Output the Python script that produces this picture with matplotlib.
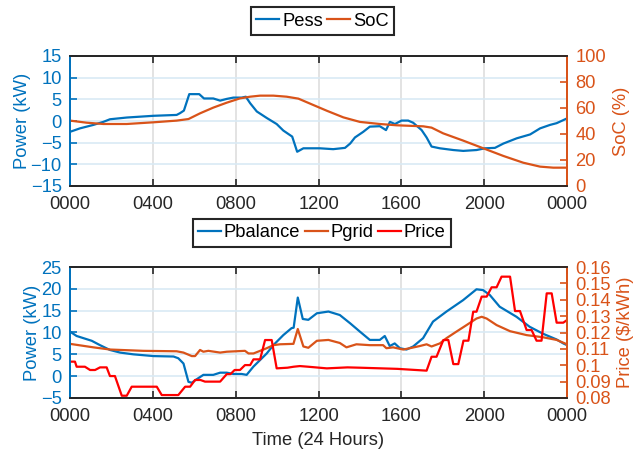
import matplotlib
matplotlib.use("Agg")
import matplotlib.pyplot as plt
from matplotlib.lines import Line2D

# ---------------- data ----------------
x_ticks = [0, 4, 8, 12, 16, 20, 24]
x_ticklabels = ["0000", "0400", "0800", "1200", "1600", "2000", "0000"]

t_pess = [0, 0.48, 1.13, 1.61, 1.93, 2.74, 4.03, 5.15, 5.31, 5.5, 5.76, 6.24, 6.47, 6.92,
          7.25, 7.57, 7.89, 8.29, 8.49, 8.7, 9.02, 9.5, 9.98, 10.3, 10.73, 10.97, 11.27,
          12.07, 12.71, 13.28, 13.53, 13.76, 14.16, 14.48, 14.96, 15.26, 15.45, 15.69,
          16.01, 16.33, 16.57, 16.98, 17.22, 17.46, 17.86, 18.51, 18.99, 19.63, 20.04,
          20.52, 20.93, 21.57, 22.22, 22.7, 23.18, 23.5, 23.82, 24]
pess = [-2.5, -1.7, -0.9, -0.2, 0.4, 0.8, 1.2, 1.4, 1.8, 2.4, 6.2, 6.2, 5.2, 5.2, 4.7,
        5.1, 5.4, 5.4, 5.6, 4.1, 2.2, 0.7, -0.7, -2.2, -3.6, -7.1, -6.3, -6.3, -6.5, -6.2,
        -5.2, -3.8, -2.5, -1.3, -1.2, -2.1, -0.2, -0.7, 0.1, 0.1, -0.4, -2.1, -3.8, -5.9,
        -6.3, -6.7, -6.9, -6.7, -6.3, -6.2, -5.2, -4.0, -3.1, -1.7, -0.9, -0.5, 0.2, 0.6]

t_soc = [0, 0.8, 1.61, 2.74, 4.03, 5.15, 5.72, 6.28, 6.92, 7.57, 8.21, 8.7, 9.18, 9.82,
         10.46, 11.03, 11.75, 12.4, 13.2, 14.0, 14.96, 15.77, 17.06, 17.46, 18.02, 18.99,
         20.04, 20.93, 21.89, 22.7, 23.34, 24]
soc = [50.3, 48.7, 47.7, 47.7, 49.0, 50.3, 51.5, 55.9, 60.3, 64.1, 67.4, 68.7, 69.5, 69.5,
       68.7, 67.2, 62.3, 57.9, 52.8, 49.3, 47.7, 46.7, 45.9, 44.9, 40.5, 34.9, 28.5, 23.1,
       17.9, 14.9, 14.1, 14.1]

t_pbal = [0, 0.32, 1.05, 1.45, 1.93, 2.42, 3.06, 4.03, 5.0, 5.23, 5.48, 5.72, 5.88, 6.12,
          6.44, 6.92, 7.25, 7.57, 7.89, 8.29, 8.53, 8.86, 9.18, 9.5, 9.82, 10.3, 10.7, 10.8,
          11.0, 11.24, 11.51, 11.92, 12.48, 13.03, 13.53, 14.0, 14.48, 14.96, 15.2, 15.44,
          15.68, 15.93, 16.25, 16.57, 17.05, 17.53, 18.18, 18.98, 19.63, 19.95, 20.27,
          20.75, 21.56, 22.2, 22.85, 23.5, 23.82, 24]
pbal = [10.2, 9.2, 8.1, 7.1, 6.0, 5.4, 5.0, 4.6, 4.5, 4.1, 2.9, -1.3, -1.5, -0.7, 0.3, 0.3,
        0.8, 0.8, 0.5, 0.5, 0.3, 2.2, 3.7, 5.2, 7.1, 9.4, 11.0, 11.1, 18.0, 13.1, 12.9,
        14.4, 14.8, 14.0, 12.1, 10.2, 8.3, 8.3, 9.2, 6.9, 7.5, 6.4, 6.1, 6.8, 8.7, 12.5,
        14.8, 17.4, 19.9, 19.7, 18.6, 15.9, 13.6, 11.3, 9.7, 8.4, 7.5, 7.1]

t_pgrid = [0, 1.13, 1.93, 3.54, 5.15, 5.48, 5.88, 6.04, 6.28, 6.44, 6.68, 7.25, 7.57, 8.45,
           8.62, 8.86, 9.18, 9.5, 9.82, 10.14, 10.79, 11.0, 11.27, 11.51, 11.92, 12.48,
           13.03, 13.35, 13.83, 14.48, 15.12, 15.28, 15.6, 16.09, 16.41, 16.89, 17.22,
           17.46, 17.86, 18.18, 18.66, 19.15, 19.63, 19.88, 20.12, 20.6, 21.25, 22.05,
           22.85, 23.5, 24]
pgrid = [7.4, 6.6, 6.1, 5.8, 5.7, 5.4, 4.6, 4.6, 6.0, 5.6, 5.8, 5.4, 5.6, 5.8, 5.2, 5.2,
         5.8, 6.4, 7.1, 7.3, 7.4, 10.8, 6.8, 6.5, 8.1, 8.3, 7.6, 6.6, 7.3, 7.1, 7.1, 6.4,
         6.6, 6.1, 6.4, 6.9, 7.3, 6.8, 7.5, 8.7, 10.2, 11.7, 13.2, 13.6, 13.2, 11.7, 10.3,
         9.4, 8.9, 8.3, 7.3]

t_price = [0, 0.24, 0.32, 0.72, 0.97, 1.21, 1.45, 1.77, 1.93, 2.17, 2.5, 2.74, 2.98, 4.19,
           4.43, 5.23, 5.56, 5.8, 6.04, 6.3, 6.52, 7.25, 7.57, 7.75, 7.95, 8.21, 8.45, 8.7,
           8.86, 9.18, 9.42, 9.74, 9.98, 10.5, 10.8, 11.1, 11.5, 12.4, 13.4, 14.0, 15.8,
           17.22, 17.46, 17.7, 18.03, 18.27, 18.51, 18.75, 19.0, 19.24, 19.47, 19.63, 19.88,
           20.12, 20.36, 20.6, 20.84, 21.25, 21.49, 21.73, 22.05, 22.29, 22.53, 22.77,
           23.02, 23.26, 23.5, 23.82, 24]
price = [0.1022, 0.1022, 0.0991, 0.0991, 0.0971, 0.0971, 0.0987, 0.0987, 0.0934, 0.0934,
         0.0814, 0.0814, 0.0869, 0.0869, 0.0818, 0.0818, 0.0869, 0.0869, 0.0910, 0.0910,
         0.0900, 0.0900, 0.0946, 0.0946, 0.0971, 0.0971, 0.1001, 0.1001, 0.1036, 0.1036,
         0.1154, 0.1154, 0.0981, 0.0985, 0.0991, 0.0995, 0.0991, 0.0981, 0.0987, 0.0985,
         0.0978, 0.0967, 0.1052, 0.1052, 0.1154, 0.1154, 0.1007, 0.1007, 0.1150, 0.1150,
         0.1327, 0.1327, 0.1419, 0.1419, 0.1476, 0.1476, 0.1541, 0.1541, 0.1331, 0.1331,
         0.1215, 0.1215, 0.1150, 0.1150, 0.1439, 0.1439, 0.1260, 0.1260, 0.1276]

top_left_ticks = [-15, -10, -5, 0, 5, 10, 15]
top_right_ticks = [0, 20, 40, 60, 80, 100]
bot_left_ticks = [-5, 0, 5, 10, 15, 20, 25]
bot_right_ticks = [0.08, 0.09, 0.10, 0.11, 0.12, 0.13, 0.14, 0.15, 0.16]
bot_right_labels = ["0.08", "0.09", "0.1", "0.11", "0.12", "0.13", "0.14", "0.15", "0.16"]

# ---------------- style ----------------
BLUE = "#0072BD"
ORANGE = "#D95319"
RED = "#FF0000"
DARK = "#262626"
HGRID = "#D9EAF5"
VGRID = "#DEDEDE"
FS = 13.2
LW = 1.6

plt.rcParams["font.family"] = ["Liberation Sans", "DejaVu Sans"]
plt.rcParams["font.size"] = FS

fig = plt.figure(figsize=(6.44, 4.51), dpi=100)

W, H = 644.0, 451.0
def pos(x0, x1, y0, y1):
    return [x0 / W, 1 - y1 / H, (x1 - x0) / W, (y1 - y0) / H]

def style_axes(ax, ax2, lticks, rticks, rlabels=None):
    ax.set_xlim(0, 24)
    ax.set_xticks(x_ticks)
    ax.set_xticklabels(x_ticklabels)
    ax.set_yticks(lticks)
    ax.set_ylim(lticks[0], lticks[-1])
    ax2.set_yticks(rticks)
    ax2.set_ylim(rticks[0], rticks[-1])
    if rlabels is not None:
        ax2.set_yticklabels(rlabels)
    ax.tick_params(axis="x", direction="in", length=5, width=1.2, colors=DARK,
                   labelcolor=DARK, labelsize=FS, pad=7, top=True)
    ax.tick_params(axis="y", direction="in", length=5, width=1.2, colors=BLUE,
                   labelcolor=BLUE, labelsize=FS, pad=6)
    ax2.tick_params(axis="y", direction="in", length=5, width=1.2, colors=ORANGE,
                    labelcolor=ORANGE, labelsize=FS, pad=6)
    for a in (ax, ax2):
        a.spines["top"].set_color(DARK)
        a.spines["bottom"].set_color(DARK)
        a.spines["left"].set_color(BLUE)
        a.spines["right"].set_color(ORANGE)
        for s in a.spines.values():
            s.set_linewidth(1.3)
    ax.set_axisbelow(True)
    ax.grid(axis="y", color=HGRID, linewidth=1.2)
    ax.grid(axis="x", color=VGRID, linewidth=1.2)

# ---------------- top ----------------
ax1 = fig.add_axes(pos(70, 567, 56, 186))
ax1b = ax1.twinx()
ax1.plot(t_pess, pess, color=BLUE, lw=LW)
ax1b.plot(t_soc, soc, color=ORANGE, lw=LW)
style_axes(ax1, ax1b, top_left_ticks, top_right_ticks)
ax1.set_ylabel("Power (kW)", color=BLUE, fontsize=FS, labelpad=0)
ax1b.set_ylabel("SoC (%)", color=ORANGE, fontsize=FS, labelpad=5)

# ---------------- bottom ----------------
ax2 = fig.add_axes(pos(70, 567, 267, 398))
ax2b = ax2.twinx()
ax2.plot(t_pbal, pbal, color=BLUE, lw=LW)
ax2.plot(t_pgrid, pgrid, color=ORANGE, lw=LW)
ax2b.plot(t_price, price, color=RED, lw=LW)
style_axes(ax2, ax2b, bot_left_ticks, bot_right_ticks, bot_right_labels)
ax2.set_ylabel("Power (kW)", color=BLUE, fontsize=FS, labelpad=0)
ax2b.set_ylabel("Price ($/kWh)", color=ORANGE, fontsize=FS, labelpad=4)
ax2.set_xlabel("Time (24 Hours)", color=DARK, fontsize=FS, labelpad=5)

# ---------------- legends ----------------
leg_kw = dict(loc="center", frameon=True, fancybox=False, edgecolor=DARK,
              framealpha=1, fontsize=FS, handlelength=1.25, handletextpad=0.15,
              columnspacing=0.25, borderpad=0.3, borderaxespad=0)
h1 = [Line2D([], [], color=BLUE, lw=LW), Line2D([], [], color=ORANGE, lw=LW)]
lg1 = fig.legend(h1, ["Pess", "SoC"], ncol=2,
                 bbox_to_anchor=(322.5 / W, 1 - 21 / H), **leg_kw)
lg1.get_frame().set_linewidth(1.5)
h2 = [Line2D([], [], color=BLUE, lw=LW), Line2D([], [], color=ORANGE, lw=LW),
      Line2D([], [], color=RED, lw=LW)]
lg2 = fig.legend(h2, ["Pbalance", "Pgrid", "Price"], ncol=3,
                 bbox_to_anchor=(322 / W, 1 - 232.5 / H), **leg_kw)
lg2.get_frame().set_linewidth(1.5)

fig.savefig("out.png", dpi=100)
